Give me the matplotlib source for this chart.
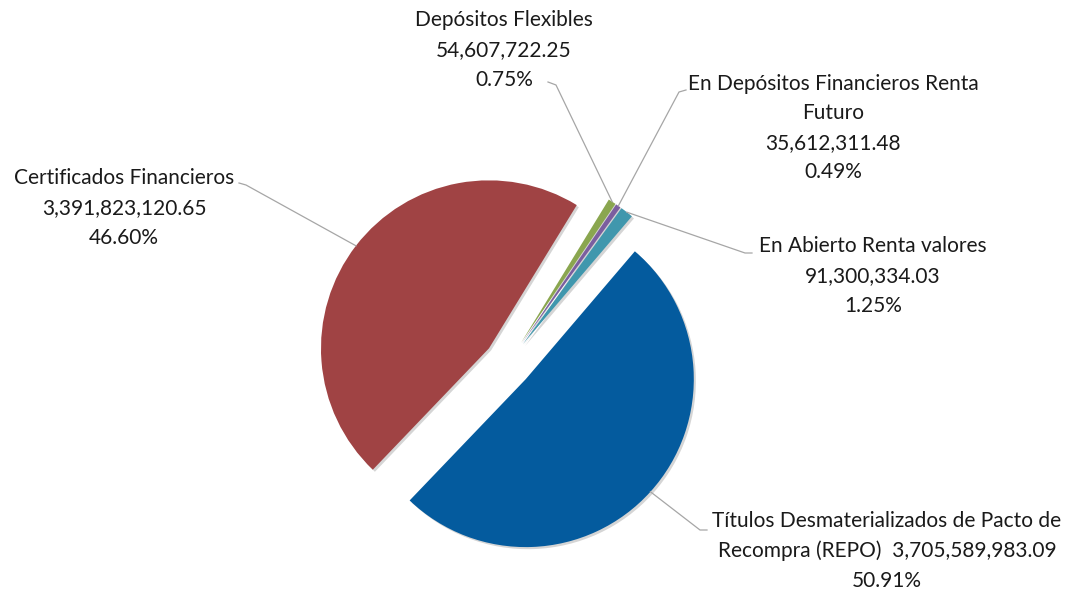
import matplotlib as mpl

mpl.use("agg")

import matplotlib.pyplot as plt
import matplotlib.patheffects as pe
import numpy as np

plt.rcParams['font.family'] = ['Lato', 'DejaVu Sans']

# data (slice order clockwise from the top)
names = ['Depósitos Flexibles',
         'En Depósitos Financieros Renta\nFuturo',
         'En Abierto Renta valores',
         'Títulos Desmaterializados de Pacto de\nRecompra (REPO)',
         'Certificados Financieros']
amounts = [54607722.25, 35612311.48, 91300334.03, 3705589983.09, 3391823120.65]
colors = ['#8AA64F', '#7B5E9F', '#4097AD', '#045B9E', '#A04344']

total = sum(amounts)
pcts = [a / total * 100 for a in amounts]

# figure in pixel-like coordinates (y up)
W, H = 1068, 589
fig = plt.figure(figsize=(W / 100, H / 100), dpi=100)
ax = fig.add_axes([0, 0, 1, 1])

cx, cy, R = 508, 226, 168
wedges, _ = ax.pie(amounts, colors=colors, startangle=58.5, counterclock=False,
                   explode=[24] * 5, radius=R, center=(cx, cy),
                   wedgeprops=dict(linewidth=0))
for w in wedges:
    w.set_path_effects([pe.SimplePatchShadow(offset=(1.5, -1.5), shadow_rgbFace='#888888', alpha=0.35),
                        pe.Normal()])

ax.set_xlim(0, W)
ax.set_ylim(0, H)
ax.set_aspect('equal')
ax.axis('off')

# label layout: text centre, elbow point, end near text
lab_pos = [(504, 539), (833, 461), (873, 313), (887, 38), (124, 381)]
elbows = [((556, 504), (548, 507)),
          ((679, 497), (686, 499)),
          ((745, 336), (752, 336)),
          ((700, 59), (707, 59)),
          ((246, 404), (239, 406))]

for i, w in enumerate(wedges):
    mid = np.deg2rad((w.theta1 + w.theta2) / 2)
    wx, wy = w.center
    ax_pt = (wx + R * np.cos(mid), wy + R * np.sin(mid))
    (ex, ey), (hx, hy) = elbows[i]
    ax.plot([ax_pt[0], ex, hx], [ax_pt[1], ey, hy], color='#A6A6A6', lw=0.9, zorder=1)
    if i == 3:
        txt = names[i] + '  {:,.2f}\n{:.2f}%'.format(amounts[i], pcts[i])
    else:
        txt = names[i] + '\n{:,.2f}\n{:.2f}%'.format(amounts[i], pcts[i])
    ax.text(lab_pos[i][0], lab_pos[i][1], txt, ha='center', va='center',
            fontsize=15, linespacing=1.6, color='#1a1a1a')

fig.savefig('out.png', dpi=100)
